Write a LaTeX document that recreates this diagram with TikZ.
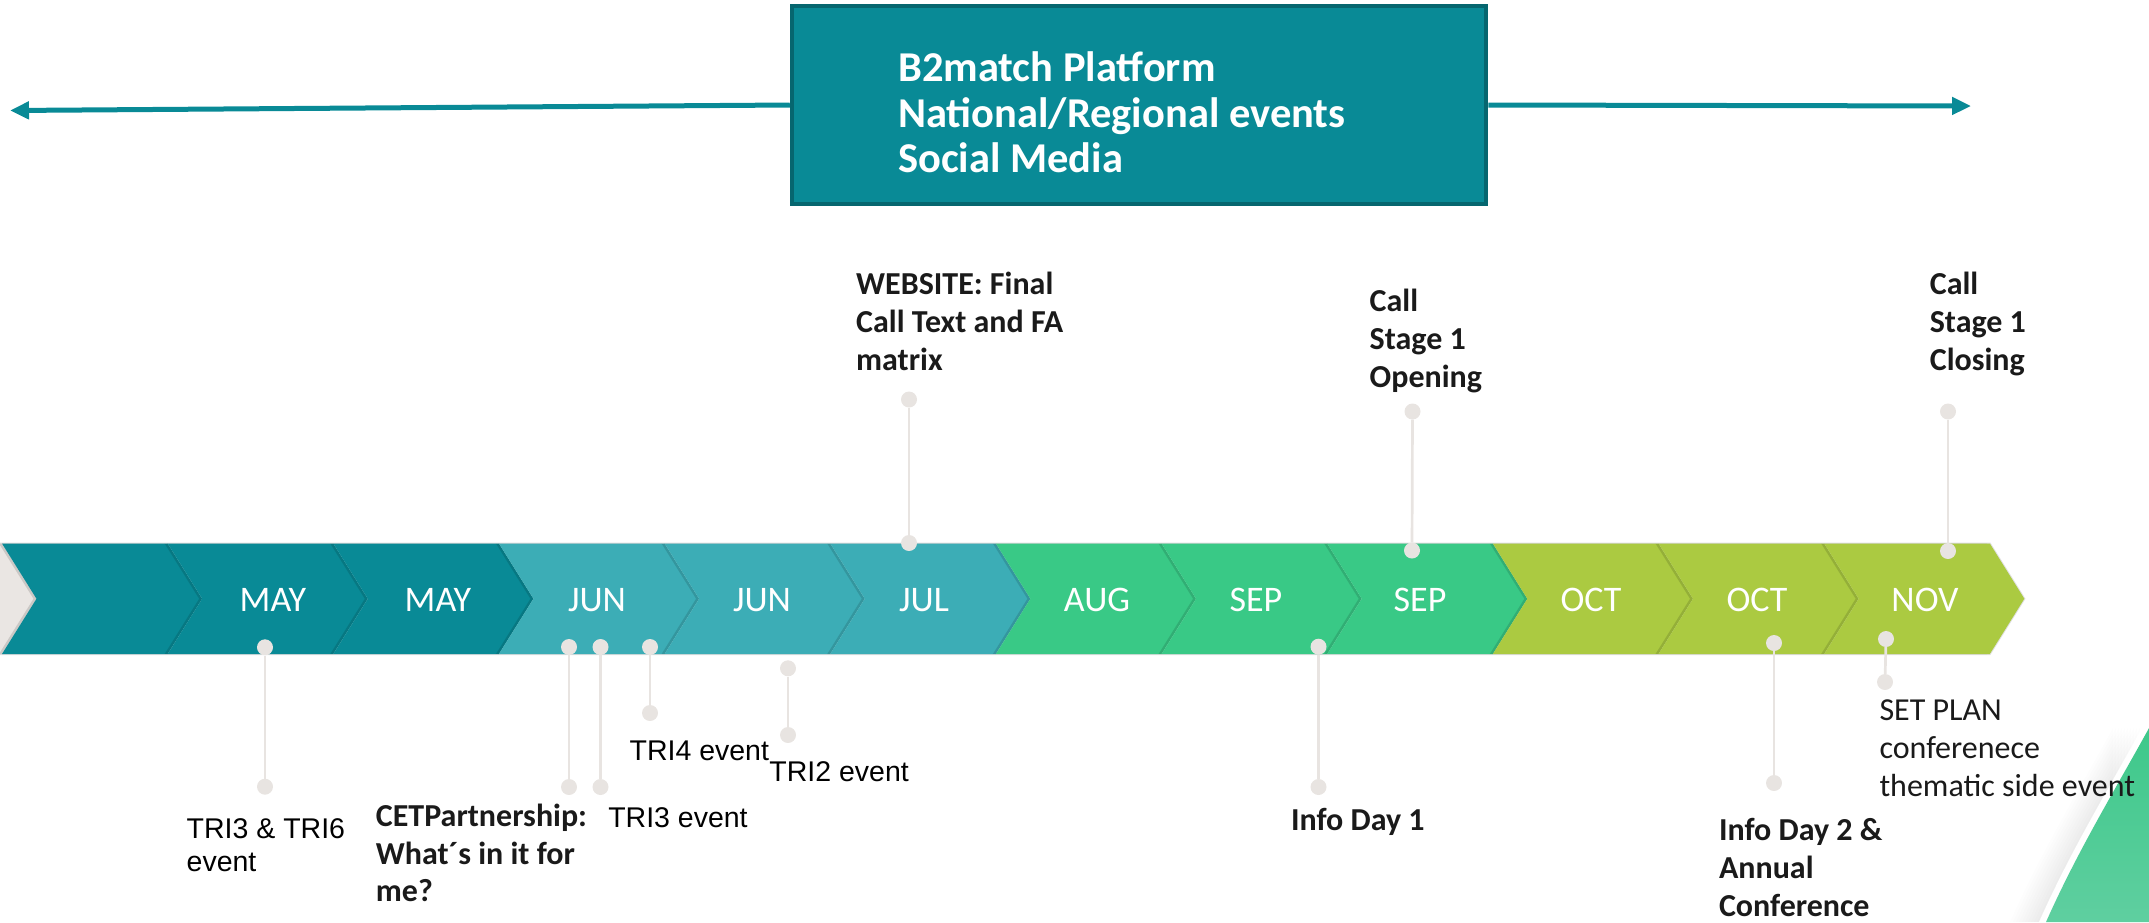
\documentclass[tikz,border=0pt]{standalone}
\usepackage{fontspec}
\setmainfont{Carlito}
\newfontfamily\arialf{Liberation Sans}
\usetikzlibrary{arrows.meta}
\definecolor{tealD}{HTML}{098A96}
\definecolor{tealB}{HTML}{06666F}
\definecolor{tealL}{HTML}{3CADB6}
\definecolor{greenM}{HTML}{39C986}
\definecolor{limeM}{HTML}{ABCA41}
\definecolor{greyC}{HTML}{EAE6E3}
\definecolor{pinC}{HTML}{E8E4E1}
\definecolor{txtC}{HTML}{1A1A1A}
\definecolor{swTop}{HTML}{3EC88A}
\definecolor{swBot}{HTML}{5FCFA0}
\begin{document}
\begin{tikzpicture}[x=1pt,y=-1pt,
  pindot/.style={circle,fill=pinC,minimum size=16pt,inner sep=0pt},
  pinline/.style={draw=pinC,line width=2.7pt},
  month/.style={text=white,font=\fontsize{36}{42}\selectfont,inner sep=0pt,anchor=base},
  boldlbl/.style={text=txtC,font=\bfseries\fontsize{32}{38.3}\selectfont,align=left,inner sep=0pt,anchor=base west},
  ariallbl/.style={text=black,font=\arialf\fontsize{28.5}{33.4}\selectfont,align=left,inner sep=0pt,anchor=base west},
  reglbl/.style={text=txtC,font=\fontsize{32}{38.3}\selectfont,align=left,inner sep=0pt,anchor=base west},
  boxtxt/.style={text=white,font=\bfseries\fontsize{42.5}{45.5}\selectfont,align=left,inner sep=0pt,anchor=base west},
  arrowline/.style={draw=tealD,line width=5pt,-{Triangle[length=19pt,width=17pt]}},
]
\useasboundingbox (0,0) rectangle (2149,922);

% decorative swoosh bottom right
\foreach \k in {1,...,10}{
  \fill[black,opacity=0.008,shift={(-6-3*\k,0)}] (2149,728) .. controls (2115,790) and (2078,850) .. (2046,922) -- (2149,922) -- cycle;
}
\fill[white,shift={(-7,0)}] (2149,728) .. controls (2115,790) and (2078,850) .. (2046,922) -- (2149,922) -- cycle;
\shade[top color=swTop,bottom color=swBot] (2149,728) .. controls (2115,790) and (2078,850) .. (2046,922) -- (2149,922) -- cycle;

% top box and arrows
\node[draw=tealB,fill=tealD,line width=4.5pt,minimum width=694pt,minimum height=198pt,inner sep=0pt] (box) at (1139,105) {};
\node[boxtxt] (boxtext) at (898,172.7) {B2match Platform\\National/Regional events\\Social Media};
\coordinate (leftend) at (10,110.5);
\coordinate (rightend) at (1971,106);
\draw[arrowline] (box.west) -- (leftend);
\draw[arrowline] (box.east) -- (rightend);

% banner
\draw[black!12,line width=2pt] (0,543.5) -- (1989.8,543.5) -- (2024.3,598.75) -- (1989.8,654) -- (0,654);
\fill[greyC] (0,543.5) -- (2,543.5) -- (36.5,598.75) -- (2,654) -- (0,654) -- cycle;
\foreach \i/\c in {0/tealD,1/tealD,2/tealD,3/tealL,4/tealL,5/tealL,6/greenM,7/greenM,8/greenM,9/limeM,10/limeM,11/limeM}{
  \pgfmathsetmacro\xl{2+165.65*\i}
  \pgfmathsetmacro\xr{\xl+165.65}
  \fill[black,opacity=0.13] (\xl-3,543.5) -- (\xr-3,543.5) -- (\xr+31.5,598.75) -- (\xr-3,654) -- (\xl-3,654) -- (\xl+31.5,598.75) -- cycle;
  \fill[\c] (\xl,543.5) -- (\xr,543.5) -- (\xr+34.5,598.75) -- (\xr,654) -- (\xl,654) -- (\xl+34.5,598.75) -- cycle;
}
\foreach \n/\x/\t in {1/273/MAY,2/438/MAY,3/597/JUN,4/762/JUN,5/924/JUL,6/1097/AUG,7/1256/SEP,8/1420/SEP,9/1591/OCT,10/1757/OCT,11/1925/NOV}{
  \node[month] (m\n) at (\x,611.5) {\t};
}

% pins
\foreach \n/\xa/\ya/\xb/\yb in {w/909/399.5/909/543, o/1412.5/411.5/1412/550.5, c/1948/411.5/1948/551,
  ba/265/647.3/265/786.7, bb/569/647/569/787, bc/600.5/647/600.5/787, bd/650/647/650/713,
  be/788/668.3/788/735, bf/1318.5/646.7/1318.5/787, bg/1774/643/1774/783, bh/1886/639/1885/682}{
  \node[pindot] (\n1) at (\xa,\ya) {};
  \node[pindot] (\n2) at (\xb,\yb) {};
  \draw[pinline] (\n1) -- (\n2);
}

% labels (base = baseline of the last line)
\node[boldlbl] (lweb) at (856,370.7) {WEBSITE: Final\\Call Text and FA\\matrix};
\node[boldlbl] (lopen) at (1369.5,387.7) {Call\\Stage 1\\Opening};
\node[boldlbl] (lclose) at (1929.6,370.7) {Call\\Stage 1\\Closing};
\node[ariallbl] (ltri36) at (186.5,871.7) {TRI3 \& TRI6\\event};
\node[boldlbl,font=\bfseries\fontsize{32}{37.5}\selectfont] (lcet) at (375.7,901.7) {CETPartnership:\\What´s in it for\\me?};
\node[ariallbl] (ltri3) at (608.1,827.3) {TRI3 event};
\node[ariallbl] (ltri4) at (629.4,760) {TRI4 event};
\node[ariallbl] (ltri2) at (769.2,781.7) {TRI2 event};
\node[boldlbl] (linfo1) at (1290.8,830.7) {Info Day 1};
\node[boldlbl,font=\bfseries\fontsize{32}{38}\selectfont] (linfo2) at (1718.8,916.7) {Info Day 2 \&\\Annual\\Conference};
\node[reglbl] (lset) at (1879.3,796.7) {SET PLAN\\conferenece\\thematic side event};
\end{tikzpicture}
\end{document}
